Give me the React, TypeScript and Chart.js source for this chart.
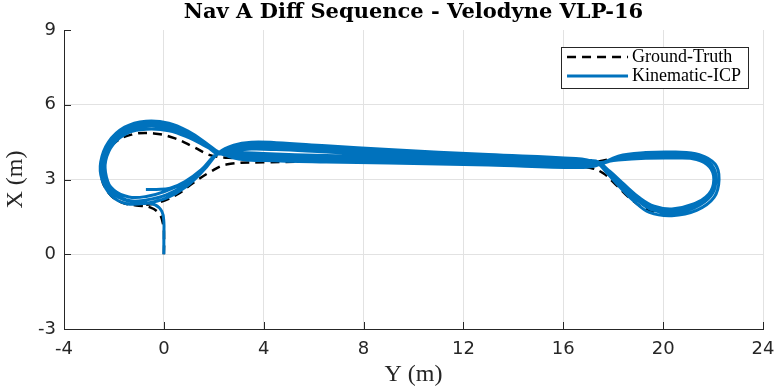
import React, { useEffect, useRef } from 'react';
import { Chart, registerables } from 'chart.js';

Chart.register(...registerables);

// ---- axes ----
const xTickValues = [-4, 0, 4, 8, 12, 16, 20, 24];
const yTickValues = [-3, 0, 3, 6, 9];
const seriesNames = ['Ground-Truth', 'Kinematic-ICP'];
const chartTitle = 'Nav A Diff Sequence - Velodyne VLP-16';
const xAxisTitle = 'Y (m)';
const yAxisTitle = 'X (m)';

// ---- Ground-Truth path, pairs of [Y (m), X (m)] ----
const gtStart: [number, number][] = [[0, 0], [0.01, 0.6], [-0.03, 1.2], [-0.18, 1.62], [-0.55, 1.88], [-1.1, 1.96]];
const gtLeftLoop: [number, number][] = [[-1.7, 2.08], [-2.2, 2.45], [-2.5, 3.1], [-2.45, 3.85], [-2.0, 4.45], [-1.3, 4.8], [-0.4, 4.85], [0.45, 4.65], [1.2, 4.3], [1.85, 3.98], [2.6, 3.87]];
const gtCorridorOut: [number, number][] = [[4, 3.9], [8, 3.88], [12, 3.8], [15.5, 3.7], [17.2, 3.7]];
const gtRightLoop: [number, number][] = [[18.3, 3.9], [19.5, 4.0], [20.6, 4.03], [21.5, 3.88], [21.98, 3.5], [22.1, 2.95], [21.88, 2.35], [21.2, 1.88], [20.3, 1.66], [19.35, 1.8], [18.7, 2.22], [18.1, 2.8], [17.6, 3.25], [17.1, 3.46]];
const gtCorridorBack: [number, number][] = [[16, 3.56], [12, 3.68], [8, 3.72], [4, 3.69], [2.5, 3.6]];
const gtLowerBranch: [number, number][] = [[1.85, 3.3], [1.2, 2.88], [0.5, 2.38], [-0.3, 2.05], [-1.1, 1.96]];

// ---- Kinematic-ICP path, pairs of [Y (m), X (m)] ----
const icpStart: [number, number][] = [[0, 0], [0.0, 0.7], [0.0, 1.3], [-0.08, 1.72], [-0.35, 1.98], [-0.9, 2.1]];
const icpLoop0: [number, number][] = [[-1.5, 2.18], [-2.0, 2.48], [-2.3, 3.1], [-2.33, 3.75], [-2.02, 4.42], [-1.42, 4.88], [-0.7, 5.02], [0.2, 4.96], [1.0, 4.68], [1.7, 4.32], [2.2, 4.06]];
const icpOut0: [number, number][] = [[3.0, 3.98], [4.0, 3.95], [6.5, 3.88], [9, 3.84], [13, 3.74], [16.5, 3.6], [17.3, 3.62]];
const icpRight0: [number, number][] = [[18.2, 3.86], [19.3, 3.98], [20.5, 4.02], [21.4, 3.93], [21.95, 3.58], [22.12, 3.0], [21.92, 2.35], [21.25, 1.86], [20.35, 1.66], [19.55, 1.78], [18.95, 2.18], [18.35, 2.74], [17.8, 3.3], [17.3, 3.68]];
const icpBack0: [number, number][] = [[16.5, 3.84], [13, 4.0], [9, 4.2], [6.5, 4.35], [4.5, 4.48], [3.5, 4.5], [2.8, 4.38]];
const icpLoop1: [number, number][] = [[2.2, 4.08], [1.6, 3.38], [0.9, 2.72], [0.1, 2.25], [-0.7, 2.05], [-1.5, 2.03], [-2.1, 2.35], [-2.48, 3.0], [-2.53, 3.7], [-2.22, 4.5], [-1.57, 5.1], [-0.72, 5.34], [0.2, 5.26], [1.0, 4.92], [1.7, 4.46], [2.2, 4.1]];
const icpOut1: [number, number][] = [[3.0, 3.82], [4.0, 3.76], [6.5, 3.7], [9, 3.66], [13, 3.58], [16.5, 3.48], [17.3, 3.55]];
const icpRight1: [number, number][] = [[18.2, 3.94], [19.3, 4.08], [20.5, 4.1], [21.45, 4.0], [22.08, 3.62], [22.24, 3.0], [22.04, 2.28], [21.34, 1.76], [20.35, 1.55], [19.45, 1.68], [18.84, 2.12], [18.26, 2.7], [17.74, 3.27], [17.3, 3.7]];
const icpBack1: [number, number][] = [[16.5, 3.8], [13, 3.95], [9, 4.12], [6.5, 4.27], [4.5, 4.4], [3.5, 4.42], [2.8, 4.3]];
const icpLoop2: [number, number][] = [[2.2, 4.06], [1.6, 3.42], [0.9, 2.82], [0.1, 2.38], [-0.7, 2.18], [-1.45, 2.15], [-2.05, 2.45], [-2.43, 3.05], [-2.47, 3.7], [-2.16, 4.45], [-1.5, 5.02], [-0.7, 5.24], [0.2, 5.16], [1.0, 4.83], [1.7, 4.4], [2.2, 4.06]];
const icpOut2: [number, number][] = [[3.0, 3.9], [4.0, 3.85], [6.5, 3.78], [9, 3.74], [13, 3.66], [16.5, 3.54], [17.3, 3.58]];
const icpRight2: [number, number][] = [[18.2, 3.82], [19.3, 3.92], [20.5, 3.94], [21.38, 3.86], [21.9, 3.54], [22.07, 3.0], [21.87, 2.38], [21.2, 1.94], [20.35, 1.74], [19.6, 1.86], [19.0, 2.24], [18.4, 2.78], [17.84, 3.32], [17.3, 3.72]];
const icpBack2: [number, number][] = [[16.5, 3.76], [13, 3.9], [9, 4.05], [6.5, 4.18], [4.5, 4.3], [3.5, 4.32], [2.8, 4.22]];
const icpLoop3: [number, number][] = [[2.15, 4.04], [1.55, 3.44], [0.85, 2.9], [0.05, 2.52], [-0.7, 2.32], [-1.4, 2.3], [-2.0, 2.57], [-2.36, 3.12], [-2.39, 3.72], [-2.09, 4.4], [-1.46, 4.94], [-0.7, 5.14], [0.2, 5.07], [1.0, 4.76], [1.7, 4.36], [2.15, 4.04]];
const icpOut3: [number, number][] = [[3.0, 4.08], [4.0, 4.04], [6.5, 3.96], [9, 3.9], [13, 3.8], [16.5, 3.66], [17.3, 3.66]];
const icpRight3: [number, number][] = [[18.2, 3.78], [19.3, 3.85], [20.5, 3.86], [21.34, 3.8], [21.86, 3.5], [22.03, 3.0], [21.83, 2.42], [21.16, 2.0], [20.35, 1.82], [19.64, 1.93], [19.04, 2.28], [18.44, 2.8], [17.86, 3.33], [17.3, 3.74]];
const icpBack3: [number, number][] = [[16.5, 3.72], [13, 3.85], [9, 3.98], [6.5, 4.1], [4.5, 4.2], [3.5, 4.22], [2.8, 4.15]];
const icpEnd: [number, number][] = [[2.15, 4.04], [1.5, 3.4], [0.85, 2.92], [0.25, 2.65], [-0.3, 2.6], [-0.72, 2.6]];

const gtSegments = [gtStart, gtLeftLoop, gtCorridorOut, gtRightLoop, gtCorridorBack, gtLowerBranch];
const icpSegments = [
  icpStart, icpLoop0, icpOut0, icpRight0, icpBack0,
  icpLoop1, icpOut1, icpRight1, icpBack1,
  icpLoop2, icpOut2, icpRight2, icpBack2,
  icpLoop3, icpOut3, icpRight3, icpBack3, icpEnd,
];

const toPoints = (segs: [number, number][][]) =>
  segs.flat().map(([y, x]) => ({ x: y, y: x }));

const AXIS_COLOR = '#262626';
const GT_COLOR = '#000000';
const ICP_COLOR = '#0072BD';
const GT_DASH = [9, 6];

const inwardTicks = {
  id: 'inwardTicks',
  afterDraw(chart: any) {
    const { ctx, chartArea } = chart;
    const xs = chart.scales.x;
    const ys = chart.scales.y;
    ctx.save();
    ctx.strokeStyle = AXIS_COLOR;
    ctx.lineWidth = 1;
    ctx.beginPath();
    xs.ticks.forEach((t: any) => {
      const p = Math.round(xs.getPixelForValue(t.value)) + 0.5;
      ctx.moveTo(p, chartArea.bottom);
      ctx.lineTo(p, chartArea.bottom - 7);
    });
    ys.ticks.forEach((t: any) => {
      const p = Math.round(ys.getPixelForValue(t.value)) + 0.5;
      ctx.moveTo(chartArea.left, p);
      ctx.lineTo(chartArea.left + 7, p);
    });
    ctx.stroke();
    ctx.restore();
  },
};

const boxedLegend = {
  id: 'boxedLegend',
  afterDraw(chart: any) {
    const { ctx, chartArea } = chart;
    ctx.save();
    ctx.font = '18px "Liberation Serif", serif';
    const textW = Math.max(...seriesNames.map((n) => ctx.measureText(n).width));
    const lineLen = 61;
    const w = 6 + lineLen + 4 + textW + 7;
    const h = 41;
    const right = chartArea.right - 15;
    const left = right - w;
    const top = chartArea.top + 17;
    ctx.fillStyle = '#ffffff';
    ctx.fillRect(left, top, w, h);
    ctx.strokeStyle = '#262626';
    ctx.lineWidth = 1;
    ctx.strokeRect(Math.round(left) + 0.5, Math.round(top) + 0.5, Math.round(w), h);
    const rows = [top + 10, top + 29];
    const styles = [
      { color: GT_COLOR, dash: GT_DASH, width: 2.5 },
      { color: ICP_COLOR, dash: [] as number[], width: 3 },
    ];
    seriesNames.forEach((name, i) => {
      ctx.beginPath();
      ctx.setLineDash(styles[i].dash);
      ctx.strokeStyle = styles[i].color;
      ctx.lineWidth = styles[i].width;
      ctx.moveTo(left + 6, rows[i]);
      ctx.lineTo(left + 6 + lineLen, rows[i]);
      ctx.stroke();
      ctx.setLineDash([]);
      ctx.fillStyle = '#000000';
      ctx.textBaseline = 'middle';
      ctx.textAlign = 'left';
      ctx.fillText(name, left + 6 + lineLen + 4, rows[i]);
    });
    ctx.restore();
  },
};

export default function App() {
  const canvasRef = useRef<HTMLCanvasElement | null>(null);

  useEffect(() => {
    if (!canvasRef.current) return;
    const chart = new Chart(canvasRef.current, {
      type: 'scatter',
      data: {
        datasets: [
          {
            label: seriesNames[0],
            data: toPoints(gtSegments),
            showLine: true,
            borderColor: GT_COLOR,
            borderWidth: 2.5,
            borderDash: GT_DASH,
            pointRadius: 0,
            tension: 0.4,
            order: 1,
          },
          {
            label: seriesNames[1],
            data: toPoints(icpSegments),
            showLine: true,
            borderColor: ICP_COLOR,
            borderWidth: 3,
            borderJoinStyle: 'round',
            pointRadius: 0,
            tension: 0.4,
            order: 0,
          },
        ],
      },
      options: {
        responsive: false,
        animation: false,
        devicePixelRatio: 1,
        layout: { padding: { left: 0, right: 14, top: 0, bottom: 0 } },
        plugins: {
          legend: { display: false },
          tooltip: { enabled: false },
          title: {
            display: true,
            text: chartTitle,
            fullSize: false,
            color: '#000000',
            font: { family: '"DejaVu Serif", serif', size: 21, weight: 'bold', lineHeight: 1.2 },
            padding: { top: 0, bottom: 4.8 },
          },
        },
        scales: {
          x: {
            type: 'linear',
            min: -4,
            max: 24,
            afterBuildTicks: (s: any) => { s.ticks = xTickValues.map((v) => ({ value: v })); },
            afterFit: (s: any) => { s.height = 62; s.paddingLeft = 0; s.paddingRight = 0; },
            grid: { color: '#e2e2e2', lineWidth: 1, drawTicks: false },
            border: { display: true, color: AXIS_COLOR, width: 1 },
            ticks: {
              color: AXIS_COLOR,
              padding: 10,
              maxRotation: 0,
              font: { family: '"DejaVu Sans", sans-serif', size: 18 },
            },
            title: {
              display: true,
              text: xAxisTitle,
              color: AXIS_COLOR,
              font: { family: '"Liberation Serif", serif', size: 24, lineHeight: 1.2 },
              padding: { top: 0, bottom: 1.6 },
            },
          },
          y: {
            type: 'linear',
            min: -3,
            max: 9,
            afterBuildTicks: (s: any) => { s.ticks = yTickValues.map((v) => ({ value: v })); },
            afterFit: (s: any) => { s.width = 64; },
            grid: {
              color: (c: any) => (c.tick && c.tick.value === 9 ? 'rgba(0,0,0,0)' : '#e2e2e2'),
              lineWidth: 1,
              drawTicks: false,
            },
            border: { display: true, color: AXIS_COLOR, width: 1 },
            ticks: {
              color: AXIS_COLOR,
              padding: 8,
              font: { family: '"DejaVu Sans", sans-serif', size: 18 },
            },
            title: {
              display: true,
              text: yAxisTitle,
              color: AXIS_COLOR,
              font: { family: '"Liberation Serif", serif', size: 24, lineHeight: 1.2 },
              padding: { top: 1, bottom: 0 },
            },
          },
        },
      },
      plugins: [inwardTicks, boxedLegend],
    } as any);
    return () => chart.destroy();
  }, []);

  return (
    <div style={{ position: 'fixed', left: 0, top: 0, width: 777, height: 391, background: '#ffffff' }}>
      <canvas ref={canvasRef} width={777} height={391} style={{ display: 'block', width: 777, height: 391 }} />
    </div>
  );
}
